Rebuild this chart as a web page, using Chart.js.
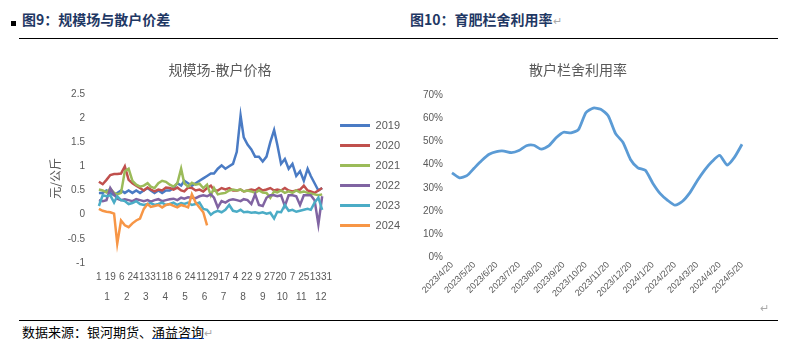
<!DOCTYPE html>
<html>
<head>
<meta charset="utf-8">
<script src="https://cdn.jsdelivr.net/npm/chart.js@4.4.1/dist/chart.umd.min.js"></script>
<style>
body{margin:0;width:787px;height:350px;background:#fff;position:relative;overflow:hidden;font-family:"Noto Sans CJK SC",sans-serif}
.hd{position:absolute;top:9px;font-size:14px;font-weight:bold;color:#1f3864;line-height:20px}
.sq{position:absolute;left:11px;top:21px;width:5px;height:5px;background:#000}
.rule{position:absolute;left:19px;width:759px;height:1px;background:#000}
.ret{color:#aaa;font-weight:normal;font-size:11px}
.box{position:absolute}
.src{position:absolute;left:22px;top:323px;font-size:13px;color:#000;line-height:18px}
.src u{text-decoration-color:#1f5fd0}
</style>
</head>
<body>
<div class="sq"></div>
<div class="hd" style="left:22px">图9：规模场与散户价差</div>
<div class="hd" style="left:410px">图10：育肥栏舍利用率<span class="ret">↵</span></div>
<div class="rule" style="top:38px"></div>
<div class="box" style="left:414px;top:48px"><canvas id="c2" width="366" height="262"></canvas></div>
<div class="box" style="left:30px;top:48px"><canvas id="c1" width="380" height="255"></canvas></div>
<div class="box ret" style="left:760px;top:299px">↵</div>
<div class="rule" style="top:320px"></div>
<div class="src">数据来源：银河期货、<u>涌益咨询</u><span class="ret">↵</span></div>
<script>
// left chart: 规模场-散户价格 (sampled roughly every 6 days)
const dayIdx = [0,6,12,18,24,29,35,41,47,53,59,65,71,77,82,88,94,100,106,112,118,124,130,135,141,147,153,159,165,171,177,182,188,194,200,206,212,218,224,229,235,241,247,253,259,265,271,277,282,288,294,300,306,312,318,324,330,335,341,347,353];
const dayTickPos = [0,18,36,54,72,90,108,126,144,162,180,198,216,234,252,270,288,306,324,342,360];
const dayTickLabels = ['1','19','6','24','13','31','18','6','24','11','29','17','4','22','9','27','20','7','25','13','31'];
const monthTickPos = [13,44,74,105,136,167,197,228,259,290,320,351];
const monthLabels = ['1','2','3','4','5','6','7','8','9','10','11','12'];
const seriesNames = ['2019','2020','2021','2022','2023','2024'];
const seriesColors = ['#4a7bc4','#c0504d','#9bbb59','#8064a2','#4bacc6','#f79646'];

const s2019 = [0.45,0.45,0.5,0.45,0.4,0.45,0.5,0.45,0.5,0.45,0.5,0.45,0.5,0.55,0.5,0.45,0.5,0.45,0.5,0.5,0.55,0.65,0.6,0.7,0.65,0.6,0.65,0.7,0.75,0.8,0.85,0.85,0.95,1.02,0.95,1.0,1.05,1.3,2.05,1.6,1.45,1.35,1.2,1.2,1.1,1.2,1.5,1.75,1.45,1.05,1.15,0.95,1.05,0.8,0.9,0.7,0.95,0.8,0.65,0.5,0.55];
const s2020 = [0.68,0.63,0.72,0.82,0.84,0.84,0.85,1.0,0.72,0.65,0.6,0.55,0.5,0.56,0.52,0.48,0.52,0.5,0.56,0.55,0.52,0.56,0.5,0.48,0.56,0.55,0.5,0.52,0.48,0.55,0.6,0.5,0.5,0.55,0.52,0.55,0.5,0.5,0.52,0.48,0.5,0.52,0.5,0.55,0.5,0.52,0.55,0.5,0.52,0.5,0.55,0.5,0.48,0.5,0.52,0.6,0.5,0.48,0.45,0.5,0.55];
const s2021 = [0.52,0.5,0.46,0.54,0.45,0.42,0.45,0.9,0.95,0.7,0.62,0.58,0.6,0.65,0.58,0.55,0.65,0.7,0.68,0.62,0.58,0.65,0.95,0.65,0.58,0.66,0.62,0.64,0.55,0.62,0.4,0.55,0.42,0.44,0.45,0.5,0.52,0.5,0.52,0.48,0.5,0.48,0.45,0.5,0.46,0.45,0.35,0.48,0.46,0.5,0.45,0.48,0.45,0.5,0.46,0.48,0.45,0.44,0.42,0.4,0.42];
const s2022 = [0.3,0.28,0.3,0.55,0.42,0.33,0.3,0.32,0.3,0.28,0.32,0.3,0.28,0.3,0.27,0.3,0.32,0.28,0.3,0.32,0.33,0.3,0.35,0.33,0.36,0.35,0.34,0.38,0.4,0.38,0.42,0.35,0.15,0.28,0.25,0.3,0.32,0.3,0.28,0.32,0.3,0.22,0.42,0.2,0.18,0.35,0.4,0.4,0.38,0.4,0.18,0.4,0.4,0.38,0.2,0.4,0.4,0.4,0.3,-0.2,0.38];
const s2023 = [0.18,0.4,0.38,0.4,0.25,0.38,0.3,0.28,0.22,0.24,0.28,0.22,0.2,0.22,0.24,0.2,0.22,0.25,0.2,0.22,0.25,0.2,0.24,0.22,0.25,0.2,0.22,0.25,0.12,0.1,0.0,0.05,0.08,0.05,0.1,0.2,0.08,0.06,0.1,0.05,0.06,0.04,0.05,0.03,0.05,0.02,0.04,-0.08,0.06,0.05,0.2,0.08,0.1,0.06,0.08,0.1,0.12,0.1,0.25,0.35,0.1];
const s2024 = [0.12,0.08,0.06,0.05,0.02,-0.6,-0.12,-0.22,-0.26,-0.18,-0.12,-0.08,0.12,0.22,0.16,0.18,0.2,0.15,0.2,0.22,0.18,0.15,0.2,0.18,0.15,0.42,0.25,0.15,0.05,-0.22];
const seriesVals = [s2019,s2020,s2021,s2022,s2023,s2024];

// right chart: 散户栏舍利用率
const rateDates = ['2023/4/20','2023/4/30','2023/5/10','2023/5/20','2023/5/30','2023/6/10','2023/6/20','2023/6/30','2023/7/10','2023/7/20','2023/7/30','2023/8/10','2023/8/20','2023/8/30','2023/9/10','2023/9/20','2023/9/30','2023/10/10','2023/10/20','2023/10/30','2023/11/10','2023/11/20','2023/11/30','2023/12/10','2023/12/20','2023/12/30','2024/1/10','2024/1/20','2024/1/30','2024/2/10','2024/2/20','2024/2/28','2024/3/10','2024/3/20','2024/3/30','2024/4/10','2024/4/20','2024/4/30','2024/5/10','2024/5/20'];
const rateVals = [36.4,34.3,35.2,38.5,41.7,44.4,45.6,45.8,45.1,46.0,48.1,48.3,46.6,48.0,51.5,53.9,53.6,55.0,62.3,64.3,63.8,61.0,53.3,49.5,42.2,38.6,37.5,32.0,27.5,24.6,22.5,24.2,27.9,33.1,37.7,41.4,43.9,39.8,43.2,48.7];

const grey = '#595959';
const numFont = 'Liberation Sans';
const cjkFont = 'Noto Sans CJK SC';
const noGrid = {display:false, drawTicks:false};

new Chart(document.getElementById('c1'), {
  type: 'line',
  data: {
    datasets: seriesNames.map((name, k) => ({
      label: name,
      data: seriesVals[k].map((v, j) => ({x: dayIdx[j], y: v})),
      borderColor: seriesColors[k],
      backgroundColor: seriesColors[k],
      borderWidth: 2.5,
      pointRadius: 0,
      tension: 0,
      order: seriesNames.length - k   // later years drawn on top, like the original
    }))
  },
  options: {
    responsive: false,
    animation: false,
    layout: {padding: {left: 0, right: 0, top: 0, bottom: 0}},
    plugins: {
      title: {display: true, text: '规模场-散户价格', color: grey, font: {family: cjkFont, size: 14, weight: 'normal'}, padding: {top: 13, bottom: 16}},
      legend: {
        position: 'right',
        labels: {
          boxWidth: 30, boxHeight: 3, padding: 9, color: grey, font: {family: numFont, size: 11},
          sort: (a, b) => a.datasetIndex - b.datasetIndex,
          generateLabels: ch => Chart.defaults.plugins.legend.labels.generateLabels(ch).map(l => ({...l, lineWidth: 0}))
        }
      },
      tooltip: {enabled: false}
    },
    scales: {
      x: {
        type: 'linear', min: -3, max: 367,
        afterBuildTicks: s => { s.ticks = dayTickPos.map(v => ({value: v})); },
        ticks: {autoSkip: false, maxRotation: 0, padding: 8, color: grey, font: {family: numFont, size: 10}, callback: (v, i) => dayTickLabels[i]},
        grid: noGrid, border: {display: false}
      },
      xm: {
        type: 'linear', axis: 'x', position: 'bottom', min: -3, max: 367,
        afterBuildTicks: s => { s.ticks = monthTickPos.map(v => ({value: v})); },
        ticks: {autoSkip: false, maxRotation: 0, padding: 0, color: grey, font: {family: numFont, size: 10}, callback: (v, i) => monthLabels[i]},
        grid: noGrid, border: {display: false}
      },
      y: {
        min: -1, max: 2.5,
        afterFit: s => { s.width = 67; },
        ticks: {stepSize: 0.5, padding: 12, color: grey, font: {family: numFont, size: 10}, callback: v => String(Math.round(v * 10) / 10)},
        title: {display: true, text: '元/公斤', color: grey, font: {family: cjkFont, size: 12}, padding: {top: 18, bottom: 0}},
        grid: noGrid, border: {display: false}
      }
    }
  }
});

new Chart(document.getElementById('c2'), {
  type: 'line',
  data: {
    labels: rateDates,
    datasets: [{
      data: rateVals,
      borderColor: '#5b9bd5',
      borderWidth: 2.8,
      pointRadius: 0,
      tension: 0.2
    }]
  },
  options: {
    responsive: false,
    animation: false,
    layout: {padding: {left: 0, right: 38, top: 0, bottom: 9}},
    plugins: {
      title: {display: true, text: '散户栏舍利用率', color: grey, font: {family: cjkFont, size: 14, weight: 'normal'}, padding: {top: 13, bottom: 17}},
      legend: {display: false},
      tooltip: {enabled: false}
    },
    scales: {
      x: {
        ticks: {autoSkip: false, minRotation: 45, maxRotation: 45, padding: 2, color: grey, font: {family: numFont, size: 9},
          callback: (v, i) => (i % 3 === 0 ? rateDates[i] : '')},
        grid: noGrid, border: {display: false}
      },
      y: {
        min: 0, max: 70,
        afterFit: s => { s.width = 38; },
        ticks: {stepSize: 10, padding: 9, color: grey, font: {family: numFont, size: 10}, callback: v => v + '%'},
        grid: noGrid, border: {display: false}
      }
    }
  }
});
</script>
</body>
</html>
